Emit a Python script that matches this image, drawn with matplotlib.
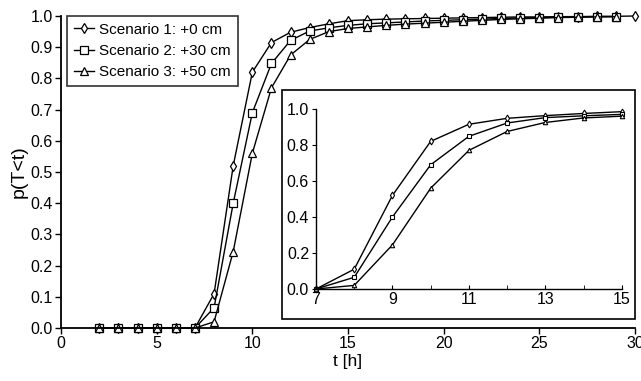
import matplotlib
matplotlib.use("Agg")
import matplotlib.pyplot as plt
from matplotlib.patches import Rectangle
from matplotlib.ticker import MultipleLocator, FixedLocator, FormatStrFormatter

plt.rcParams['font.family'] = ['Liberation Sans', 'DejaVu Sans']

t1 = list(range(2, 31))
t23 = list(range(2, 30))
s1 = [0, 0, 0, 0, 0, 0, 0.11, 0.52, 0.82, 0.915, 0.948, 0.963, 0.975, 0.985,
      0.988, 0.99, 0.991, 0.992, 0.993, 0.994, 0.995, 0.996, 0.997, 0.997,
      0.998, 0.998, 0.999, 0.999, 1.0]
s2 = [0, 0, 0, 0, 0, 0, 0.065, 0.40, 0.69, 0.848, 0.922, 0.952, 0.962, 0.97,
      0.975, 0.978, 0.981, 0.984, 0.986, 0.988, 0.99, 0.992, 0.994, 0.995,
      0.996, 0.997, 0.998, 0.998]
s3 = [0, 0, 0, 0, 0, 0, 0.02, 0.245, 0.56, 0.77, 0.875, 0.925, 0.95, 0.96,
      0.965, 0.97, 0.974, 0.977, 0.98, 0.983, 0.986, 0.989, 0.991, 0.993,
      0.995, 0.996, 0.997, 0.998]
labels = ["Scenario 1: +0 cm", "Scenario 2: +30 cm", "Scenario 3: +50 cm"]
inset_ticks = [7, 9, 11, 13, 15]

fig = plt.figure(figsize=(6.41, 3.81), dpi=100)
ax = fig.add_axes([0.0952, 0.139, 0.8954, 0.819])

kw = dict(color='black', lw=1.0, mfc='white', mec='black', mew=0.9, clip_on=False)
ax.plot(t1, s1, marker='d', ms=5.5, label=labels[0], **kw)
ax.plot(t23, s2, marker='s', ms=5.8, label=labels[1], **kw)
ax.plot(t23, s3, marker='^', ms=6.0, label=labels[2], **kw)

ax.set_xlim(0, 30)
ax.set_ylim(0, 1.0)
ax.xaxis.set_major_locator(MultipleLocator(5))
ax.yaxis.set_major_locator(MultipleLocator(0.1))
ax.yaxis.set_major_formatter(FormatStrFormatter('%.1f'))
for s in ['top', 'right']:
    ax.spines[s].set_visible(False)
for s in ['left', 'bottom']:
    ax.spines[s].set_linewidth(1.3)
ax.tick_params(labelsize=11.5, length=4, width=1, direction='out', pad=2)
ax.set_xlabel('t [h]', fontsize=12.5, labelpad=2)
ax.set_ylabel('p(T<t)', fontsize=14, labelpad=2)

leg = ax.legend(loc='upper left', bbox_to_anchor=(0.005, 1.01), fontsize=11,
                frameon=True, fancybox=False, edgecolor='black',
                handlelength=1.3, handletextpad=0.35, borderpad=0.45,
                labelspacing=0.48, borderaxespad=0.2)
leg.get_frame().set_linewidth(1.2)

# inset frame
rect = Rectangle((0.44, 0.163), 0.5506, 0.601, transform=fig.transFigure,
                 facecolor='white', edgecolor='black', lw=1.2, zorder=5)
fig.patches.append(rect)

axi = fig.add_axes([0.493, 0.2415, 0.477, 0.4725])
axi.set_zorder(10)
axi.patch.set_alpha(0)
kwi = dict(color='black', lw=1.0, mfc='white', mec='black', mew=0.8, clip_on=False)
i1 = [i for i, t in enumerate(t1) if 7 <= t <= 15]
i2 = [i for i, t in enumerate(t23) if 7 <= t <= 15]
axi.plot([t1[i] for i in i1], [s1[i] for i in i1], marker='d', ms=3.5, **kwi)
axi.plot([t23[i] for i in i2], [s2[i] for i in i2], marker='s', ms=3.2, **kwi)
axi.plot([t23[i] for i in i2], [s3[i] for i in i2], marker='^', ms=3.2, **kwi)
axi.set_xlim(7, 15)
axi.set_ylim(0, 1.0)
axi.xaxis.set_major_locator(FixedLocator(inset_ticks))
axi.xaxis.set_minor_locator(MultipleLocator(1))
axi.yaxis.set_major_locator(MultipleLocator(0.2))
axi.yaxis.set_major_formatter(FormatStrFormatter('%.1f'))
for s in ['top', 'right']:
    axi.spines[s].set_visible(False)
for s in ['left', 'bottom']:
    axi.spines[s].set_linewidth(1.0)
axi.tick_params(axis='x', which='both', direction='in', length=3, labelsize=11.5, pad=2)
axi.tick_params(axis='y', direction='out', length=3, labelsize=11.5, pad=2)

fig.savefig('out.png', dpi=100)
